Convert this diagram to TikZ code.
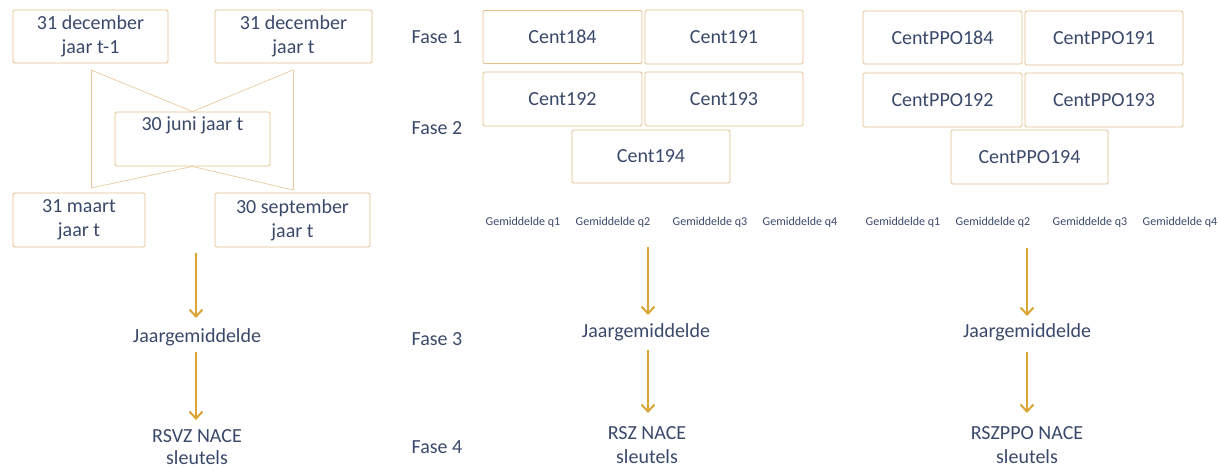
\documentclass[tikz,border=0pt]{standalone}
\usepackage{fontspec}
\setmainfont{Carlito}
\usetikzlibrary{arrows.meta}
\definecolor{txt}{RGB}{58,72,106}
\definecolor{boxc}{RGB}{226,190,140}
\definecolor{linec}{RGB}{232,200,160}
\definecolor{arrc}{RGB}{218,165,52}
\tikzset{
  box/.style={draw=boxc, line width=0.9pt, rounded corners=1.5pt, text=txt, align=center, inner sep=0pt,
    font=\fontsize{20}{24}\selectfont},
  lbl/.style={text=txt, align=center, inner sep=0pt, font=\fontsize{20}{24}\selectfont},
  small/.style={text=txt, inner sep=0pt, font=\fontsize{12}{14}\selectfont},
  thinline/.style={draw=linec, line width=0.7pt},
  arr/.style={draw=arrc, line width=2pt, -{Straight Barb[length=7pt,width=13pt]}}
}
\begin{document}
\begin{tikzpicture}[x=1pt,y=-1pt]
\useasboundingbox (0,0) rectangle (1219,470);
% left column
\node[box, minimum width=155pt, minimum height=53pt] (d1) at (90.5,36.5) {31 december\\jaar t-1};
\node[box, minimum width=157pt, minimum height=53pt] (d2) at (293.5,36.5) {31 december\\jaar t};
\node[box, minimum width=155pt, minimum height=54pt] (juni) at (192.5,139) {30 juni jaar t\\\strut};
\node[box, minimum width=132pt, minimum height=54pt] (maart) at (79,220) {31 maart\\jaar t};
\node[box, minimum width=155pt, minimum height=54pt] (sept) at (292.5,220) {30 september\\jaar t};
\coordinate (t1) at (91,70);
\coordinate (t2) at (293,70);
\coordinate (b1) at (91,188);
\coordinate (b2) at (293,190);
\draw[thinline] (t1) -- (juni.north) -- (t2);
\draw[thinline] (t1) -- (b1);
\draw[thinline] (t2) -- (b2);
\draw[thinline] (b1) -- (juni.south) -- (b2);
\coordinate (la) at (196,253);
\coordinate (la2) at (196,318);
\coordinate (lb) at (196,352);
\coordinate (lb2) at (196,420);
\node[lbl] (jl) at (197,337) {Jaargemiddelde};
\node[lbl, font=\fontsize{20}{22}\selectfont] (rl) at (197,447) {RSVZ NACE\\sleutels};
\draw[arr] (la) -- (la2);
\draw[arr] (lb) -- (lb2);
% phase labels
\node[lbl] (f1) at (437,37) {Fase 1};
\node[lbl] (f2) at (437,128) {Fase 2};
\node[lbl] (f3) at (437,339) {Fase 3};
\node[lbl] (f4) at (437,447) {Fase 4};
% middle column
\node[box, minimum width=159pt, minimum height=53pt] (c184) at (562.5,37) {Cent184};
\node[box, minimum width=158pt, minimum height=54pt] (c191) at (724,37) {Cent191};
\node[box, minimum width=159pt, minimum height=54pt] (c192) at (562.5,99) {Cent192};
\node[box, minimum width=158pt, minimum height=54pt] (c193) at (724,99) {Cent193};
\node[box, minimum width=158pt, minimum height=53pt] (c194) at (651,156.5) {Cent194};
\node[small] (mq1) at (523,222) {Gemiddelde q1};
\node[small] (mq2) at (613,222) {Gemiddelde q2};
\node[small] (mq3) at (710,222) {Gemiddelde q3};
\node[small] (mq4) at (800,222) {Gemiddelde q4};
\coordinate (ma) at (648,247);
\coordinate (ma2) at (648,315);
\coordinate (mb) at (648,350);
\coordinate (mb2) at (648,413);
\node[lbl] (jm) at (646,332) {Jaargemiddelde};
\node[lbl] (rm) at (647,445) {RSZ NACE\\sleutels};
\draw[arr] (ma) -- (ma2);
\draw[arr] (mb) -- (mb2);
% right column
\node[box, minimum width=159pt, minimum height=53pt] (p184) at (942.5,37.5) {CentPPO184};
\node[box, minimum width=158pt, minimum height=54pt] (p191) at (1104,38) {CentPPO191};
\node[box, minimum width=159pt, minimum height=54pt] (p192) at (942.5,100) {CentPPO192};
\node[box, minimum width=158pt, minimum height=54pt] (p193) at (1104,100) {CentPPO193};
\node[box, minimum width=157pt, minimum height=54pt] (p194) at (1029.5,157) {CentPPO194};
\node[small] (rq1) at (903,222) {Gemiddelde q1};
\node[small] (rq2) at (993,222) {Gemiddelde q2};
\node[small] (rq3) at (1090,222) {Gemiddelde q3};
\node[small] (rq4) at (1180,222) {Gemiddelde q4};
\coordinate (ra) at (1027,248);
\coordinate (ra2) at (1027,316);
\coordinate (rb) at (1027,352);
\coordinate (rb2) at (1027,413);
\node[lbl] (jr) at (1027,332) {Jaargemiddelde};
\node[lbl] (rr) at (1027,445) {RSZPPO NACE\\sleutels};
\draw[arr] (ra) -- (ra2);
\draw[arr] (rb) -- (rb2);
\end{tikzpicture}
\end{document}
